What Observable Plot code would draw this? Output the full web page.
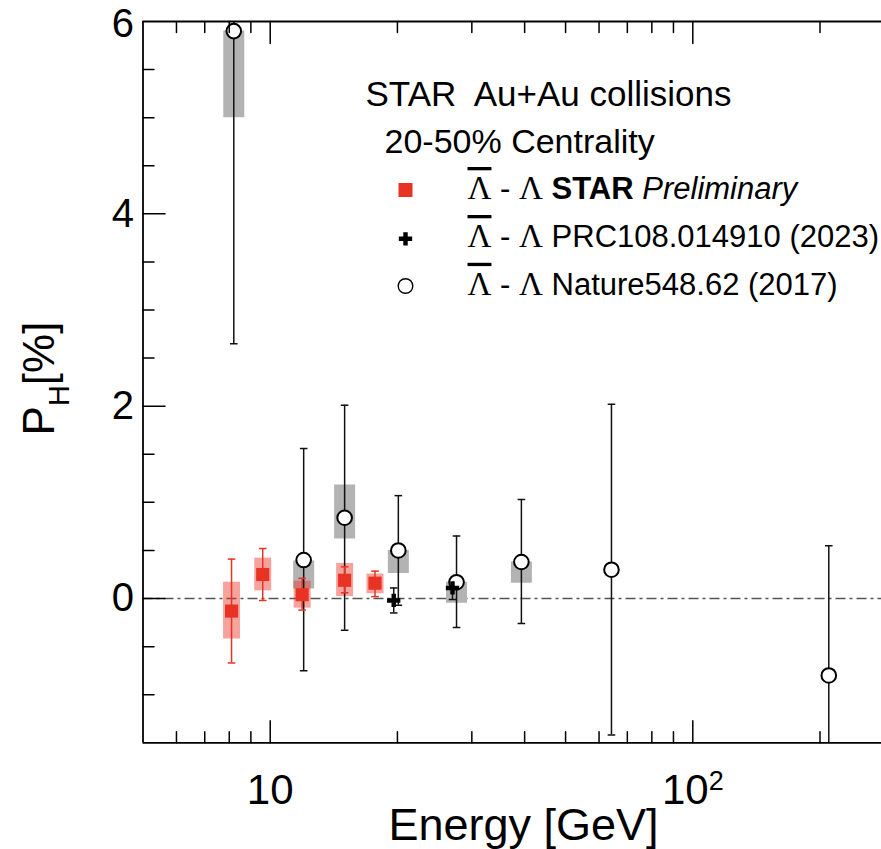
<!DOCTYPE html>
<html><head><meta charset="utf-8">
<script src="https://cdn.jsdelivr.net/npm/d3@7"></script>
<script src="https://cdn.jsdelivr.net/npm/@observablehq/plot@0.6"></script>
<style>
html,body{margin:0;padding:0;background:#fff;}
#chart svg{display:block;}
</style>
</head><body><div id="chart"></div>
<script>
// ---------- data ----------
// STAR Preliminary (red squares)
const starEnergy   = [8.1, 9.6, 11.9, 15.0, 17.7];
const starP        = [-0.13, 0.25, 0.04, 0.19, 0.16];
const starStatLow  = [-0.67, -0.02, -0.12, 0.06, 0.02];
const starStatHigh = [0.41, 0.52, 0.21, 0.33, 0.285];
const starSysLow   = [-0.42, 0.08, -0.10, 0.02, 0.05];
const starSysHigh  = [0.17, 0.42, 0.18, 0.365, 0.255];

// PRC108.014910 (2023) (black crosses)
const prcEnergy   = [19.6, 27.0];
const prcP        = [-0.02, 0.11];
const prcStatLow  = [-0.15, -0.01];
const prcStatHigh = [0.11, 0.18];

// Nature548.62 (2017) (open circles)
const natEnergy   = [8.2, 12.0, 15.0, 20.1, 27.6, 39.3, 64.2, 209.8];
const natP        = [5.90, 0.40, 0.84, 0.50, 0.17, 0.38, 0.30, -0.80];
const natStatLow  = [2.65, -0.75, -0.33, -0.07, -0.30, -0.26, -1.42, -2.15];
const natStatHigh = [9.15, 1.56, 2.01, 1.07, 0.65, 1.03, 2.02, 0.55];
const natSysLow   = [5.0, 0.10, 0.62, 0.26, -0.05, 0.16, null, null];
const natSysHigh  = [5.9, 0.39, 1.18, 0.50, 0.17, 0.38, null, null];

// axes
const xDomain = [5, 279.6];
const yDomain = [-1.5, 6];
const xMajorTicks = [10, 100];
const xMinorTicks = [6, 7, 8, 9, 20, 30, 40, 50, 60, 70, 80, 90, 200];
const yMajorTicks = [0, 2, 4];
const yMinorTicks = [-1, -0.5, 0.5, 1, 1.5, 2.5, 3, 3.5, 4.5, 5, 5.5];
const yLabelTicks = [0, 2, 4];
const yTopLabelTicks = [6];
const xTickLabels = ["10", "10^2"];

// text
const headerLines = ["STAR\u00a0 Au+Au collisions", "20-50% Centrality"];
const legendNames = ["STAR Preliminary", "PRC108.014910 (2023)", "Nature548.62 (2017)"];
const xTitle = "Energy [GeV]";
const yTitle = "P_H[%]";

// ---------- build ----------
const RED = "rgb(232,50,35)";
const star = starEnergy.map((e, i) => ({e, p: starP[i], lo: starStatLow[i], hi: starStatHigh[i], slo: starSysLow[i], shi: starSysHigh[i]}));
const prc = prcEnergy.map((e, i) => ({e, p: prcP[i], lo: prcStatLow[i], hi: prcStatHigh[i]}));
const nat = natEnergy.map((e, i) => ({e, p: natP[i], lo: natStatLow[i], hi: natStatHigh[i], slo: natSysLow[i], shi: natSysHigh[i]}));
const natSys = nat.filter(d => d.slo != null);

const W = 881, H = 849, ML = 142.5, MT = 21, MB = 106.7, MR = 0;

const lineShape = {draw(ctx, l) { ctx.moveTo(0, 0); ctx.lineTo(0, -l); }};
const capSymbol = {draw(ctx) { ctx.moveTo(-3.8, 0); ctx.lineTo(3.8, 0); }};

const tickMarks = (ticks, axis, len) => {
  const o = {length: len, anchor: "start", shape: lineShape, stroke: "#000", strokeWidth: 1.5};
  if (axis === "bottom") return Plot.vector(ticks, {...o, x: d => d, frameAnchor: "bottom", rotate: 0});
  if (axis === "top") return Plot.vector(ticks, {...o, x: d => d, frameAnchor: "top", rotate: 180});
  return Plot.vector(ticks, {...o, y: d => d, frameAnchor: "left", rotate: 90});
};

const legendSymbols = [
  {symbol: "square", r: 7.9, fill: RED, stroke: "none"},
  {symbol: "cross", r: 5.6, fill: "#000", stroke: "none"},
  {symbol: "circle", r: 7.3, fill: "#fff", stroke: "#000", strokeWidth: 1.4}
];
const legendMarkerY = [189.5, 238.3, 285.5];
const legendBaseY = [198.5, 246.5, 294.3];

const legendMarks = [];
legendNames.forEach((name, i) => {
  const s = legendSymbols[i];
  legendMarks.push(Plot.dot([name], {frameAnchor: "top-left", dx: 405 - ML, dy: legendMarkerY[i] - MT,
    symbol: s.symbol, r: s.r, fill: s.fill, stroke: s.stroke, strokeWidth: s.strokeWidth || 1}));
  legendMarks.push(Plot.text([name], {text: d => d, frameAnchor: "top-left", dx: 467 - ML, dy: legendBaseY[i] - MT,
    textAnchor: "start", lineAnchor: "bottom", fontSize: 31, fill: "#000", className: "legrow"}));
});

const chart = Plot.plot({
  width: W, height: H,
  marginLeft: ML, marginRight: MR, marginTop: MT, marginBottom: MB,
  style: {fontFamily: "'Liberation Sans', Arial, Helvetica, sans-serif", background: "#fff", color: "#000"},
  x: {type: "log", domain: xDomain},
  y: {domain: yDomain},
  marks: [
    // zero reference line
    Plot.ruleY([0], {stroke: "#555", strokeWidth: 1.5, strokeDasharray: "10,4,3,4"}),
    // systematic boxes
    Plot.ruleX(natSys, {x: "e", y1: "slo", y2: "shi", stroke: "#b3b3b3", strokeWidth: 21, clip: true}),
    Plot.ruleX(star, {x: "e", y1: "slo", y2: "shi", stroke: RED, strokeOpacity: 0.45, strokeWidth: 17}),
    // statistical error bars
    Plot.ruleX(nat, {x: "e", y1: "lo", y2: "hi", stroke: "#111", strokeWidth: 1.5, clip: true}),
    Plot.dot(nat, {x: "e", y: "lo", symbol: capSymbol, stroke: "#111", strokeWidth: 1.5, fill: "none", clip: true}),
    Plot.dot(nat, {x: "e", y: "hi", symbol: capSymbol, stroke: "#111", strokeWidth: 1.5, fill: "none", clip: true}),
    Plot.ruleX(prc, {x: "e", y1: "lo", y2: "hi", stroke: "#111", strokeWidth: 1.5}),
    Plot.dot(prc, {x: "e", y: "lo", symbol: capSymbol, stroke: "#111", strokeWidth: 1.5, fill: "none"}),
    Plot.dot(prc, {x: "e", y: "hi", symbol: capSymbol, stroke: "#111", strokeWidth: 1.5, fill: "none"}),
    Plot.ruleX(star, {x: "e", y1: "lo", y2: "hi", stroke: RED, strokeWidth: 1.5}),
    Plot.dot(star, {x: "e", y: "lo", symbol: capSymbol, stroke: RED, strokeWidth: 1.5, fill: "none"}),
    Plot.dot(star, {x: "e", y: "hi", symbol: capSymbol, stroke: RED, strokeWidth: 1.5, fill: "none"}),
    // markers
    Plot.dot(nat, {x: "e", y: "p", symbol: "circle", r: 7.3, fill: "#fff", stroke: "#000", strokeWidth: 2}),
    Plot.dot(star, {x: "e", y: "p", symbol: "square", r: 7.4, fill: RED, stroke: "none"}),
    Plot.dot(prc, {x: "e", y: "p", symbol: "cross", r: 5.6, fill: "#000", stroke: "none"}),
    // frame lines
    Plot.ruleX([xDomain[0]], {stroke: "#000", strokeWidth: 1.8}),
    Plot.ruleY([yDomain[0]], {stroke: "#000", strokeWidth: 1.8}),
    Plot.ruleY([yDomain[1]], {stroke: "#000", strokeWidth: 1.8}),
    // ticks
    tickMarks(xMajorTicks, "bottom", 22),
    tickMarks(xMinorTicks, "bottom", 11),
    tickMarks(xMajorTicks, "top", 22),
    tickMarks(xMinorTicks, "top", 11),
    tickMarks(yMajorTicks, "left", 22),
    tickMarks(yMinorTicks, "left", 11),
    // tick labels
    Plot.axisY({ticks: yLabelTicks, tickSize: 0, tickPadding: 9, fontSize: 40, label: null}),
    Plot.axisY({ticks: yTopLabelTicks, tickSize: 0, tickPadding: 9, fontSize: 40, label: null, dy: 3}),
    Plot.axisX({ticks: xMajorTicks, tickFormat: (d) => xTickLabels[xMajorTicks.indexOf(d)], tickSize: 0, tickPadding: 31, fontSize: 42, label: null, className: "xticklab"}),
    // axis titles
    Plot.text([xTitle], {text: d => d, frameAnchor: "bottom", dx: 523 - (ML + W) / 2, dy: 839 - (H - MB),
      textAnchor: "middle", lineAnchor: "bottom", fontSize: 45, fill: "#000"}),
    Plot.text([yTitle], {text: d => d, frameAnchor: "left", dx: 53 - ML, dy: 378 - (MT + (H - MB)) / 2, rotate: -90,
      textAnchor: "middle", lineAnchor: "bottom", fontSize: 44, fill: "#000", className: "ytitle"}),
    // legend header
    Plot.text([headerLines[0]], {text: d => d, frameAnchor: "top-left", dx: 365 - ML, dy: 105 - MT,
      textAnchor: "start", lineAnchor: "bottom", fontSize: 35, fill: "#000"}),
    Plot.text([headerLines[1]], {text: d => d, frameAnchor: "top-left", dx: 384 - ML, dy: 152 - MT,
      textAnchor: "start", lineAnchor: "bottom", fontSize: 34, fill: "#000"}),
    ...legendMarks
  ]
});

document.getElementById("chart").appendChild(chart);

// ---------- rich text (sub/superscripts, Greek, bold/italic) ----------
const svg = d3.select(chart);
const SERIF = "'Liberation Serif', 'Times New Roman', serif";
svg.selectAll(".legrow text").each(function() {
  const el = d3.select(this);
  const name = el.text();
  el.text(null);
  el.append("tspan").attr("font-family", SERIF).attr("font-size", 33).style("text-decoration", "overline").text("Λ");
  el.append("tspan").text("\u00a0-\u00a0");
  el.append("tspan").attr("font-family", SERIF).attr("font-size", 33).text("Λ");
  el.append("tspan").text("\u00a0");
  if (name.startsWith("STAR ")) {
    el.append("tspan").attr("font-weight", "bold").text("STAR");
    el.append("tspan").text("\u00a0");
    el.append("tspan").attr("font-style", "italic").text(name.slice(5));
  } else {
    el.append("tspan").text(name);
  }
});
svg.selectAll(".ytitle text").each(function() {
  const el = d3.select(this);
  const [base, rest] = el.text().split("_");
  el.text(null);
  el.append("tspan").text(base);
  el.append("tspan").attr("font-size", 29).attr("dy", 15).text(rest.slice(0, 1));
  el.append("tspan").attr("dy", -15).text(rest.slice(1));
});
svg.selectAll(".xticklab text").each(function() {
  const el = d3.select(this);
  const t = el.text();
  if (!t.includes("^")) return;
  const [base, sup] = t.split("^");
  el.text(null);
  el.append("tspan").text(base);
  el.append("tspan").attr("font-size", 27).attr("dy", -14).text(sup);
});
</script>
</body></html>
